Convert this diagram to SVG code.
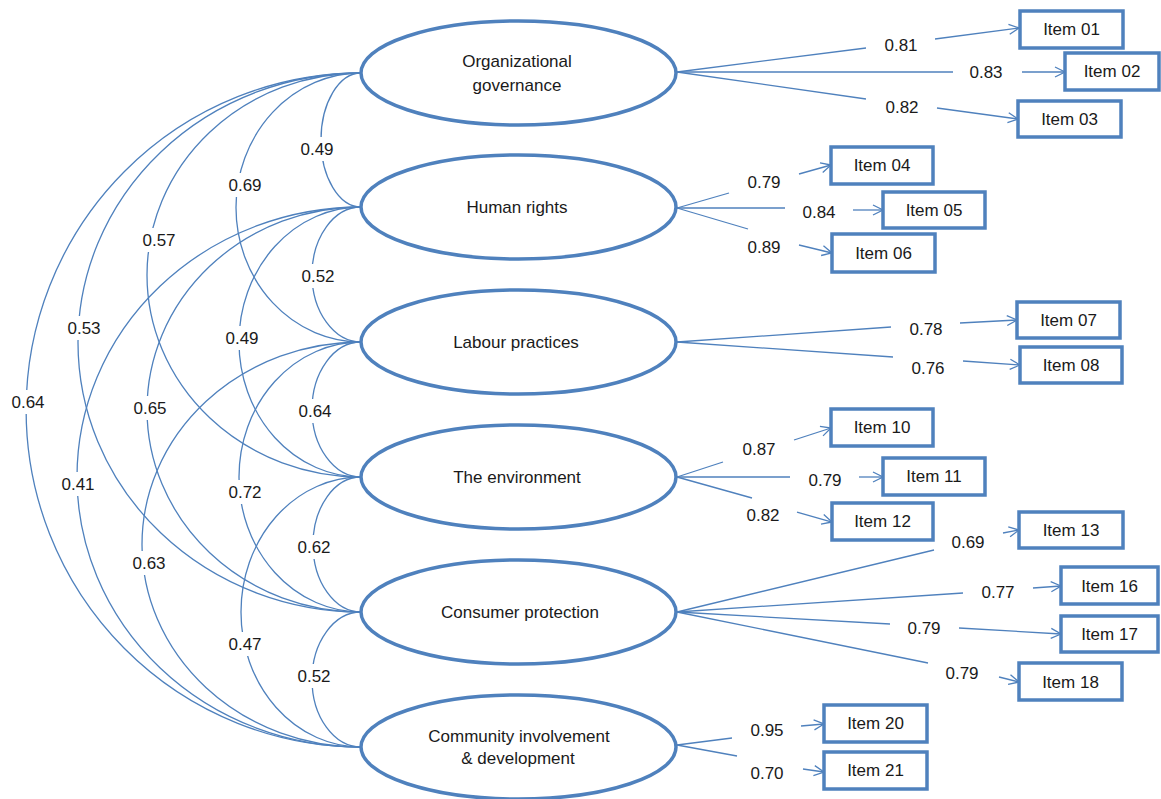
<svg xmlns="http://www.w3.org/2000/svg" width="1161" height="799" viewBox="0 0 1161 799">
<style>
.fac{fill:#fff;stroke:#4F81BD;stroke-width:3.5}
.box{fill:#fff;stroke:#4F81BD;stroke-width:3.5}
.ln{fill:none;stroke:#4F81BD;stroke-width:1.3}
.t{font-family:"Liberation Sans",Arial,sans-serif;font-size:17px;fill:#1a1a1a;text-anchor:middle}
.bg{fill:#fff}
</style>
<defs>
<marker id="arr" markerUnits="userSpaceOnUse" markerWidth="14" markerHeight="14" refX="11" refY="6" orient="auto">
<path d="M1,1 L11,6 L1,11" fill="none" stroke="#4F81BD" stroke-width="1.3"/>
</marker>
</defs>
<rect width="1161" height="799" fill="#fff"/>
<g id="connectors">
<g id="covariances">
<path class="ln" d="M361,73 A40,67 0 0 0 361,207"/>
<path class="ln" d="M361,207 A49,67.5 0 0 0 361,342"/>
<path class="ln" d="M361,342 A49,67.5 0 0 0 361,477"/>
<path class="ln" d="M361,477 A48,67.5 0 0 0 361,612"/>
<path class="ln" d="M361,612 A49,67.5 0 0 0 361,747"/>
<path class="ln" d="M361,73 A125,134.5 0 0 0 361,342"/>
<path class="ln" d="M361,207 A122,135 0 0 0 361,477"/>
<path class="ln" d="M361,342 A122,135 0 0 0 361,612"/>
<path class="ln" d="M361,477 A120,135 0 0 0 361,747"/>
<path class="ln" d="M361,73 A214,202 0 0 0 361,477"/>
<path class="ln" d="M361,207 A214,202.5 0 0 0 361,612"/>
<path class="ln" d="M361,342 A219,202.5 0 0 0 361,747"/>
<path class="ln" d="M361,73 A283,269.5 0 0 0 361,612"/>
<path class="ln" d="M361,207 A284,270 0 0 0 361,747"/>
<path class="ln" d="M361,73 A335,337 0 0 0 361,747"/>
</g>
<g id="cov-labels">
<rect class="bg" x="299" y="137" width="36" height="24"/><text class="t" x="317" y="155">0.49</text>
<rect class="bg" x="300" y="264" width="36" height="24"/><text class="t" x="318" y="282">0.52</text>
<rect class="bg" x="297" y="399" width="36" height="24"/><text class="t" x="315" y="417">0.64</text>
<rect class="bg" x="296" y="535" width="36" height="24"/><text class="t" x="314" y="553">0.62</text>
<rect class="bg" x="296" y="664" width="36" height="24"/><text class="t" x="314" y="682">0.52</text>
<rect class="bg" x="227" y="173" width="36" height="24"/><text class="t" x="245" y="191">0.69</text>
<rect class="bg" x="224" y="326" width="36" height="24"/><text class="t" x="242" y="344">0.49</text>
<rect class="bg" x="227" y="480" width="36" height="24"/><text class="t" x="245" y="498">0.72</text>
<rect class="bg" x="227" y="632" width="36" height="24"/><text class="t" x="245" y="650">0.47</text>
<rect class="bg" x="141" y="228" width="36" height="24"/><text class="t" x="159" y="246">0.57</text>
<rect class="bg" x="132" y="396" width="36" height="24"/><text class="t" x="150" y="414">0.65</text>
<rect class="bg" x="131" y="551" width="36" height="24"/><text class="t" x="149" y="569">0.63</text>
<rect class="bg" x="66" y="316" width="36" height="24"/><text class="t" x="84" y="334">0.53</text>
<rect class="bg" x="60" y="472" width="36" height="24"/><text class="t" x="78" y="490">0.41</text>
<rect class="bg" x="10" y="390" width="36" height="24"/><text class="t" x="28" y="408">0.64</text>
</g>
<g id="loadings">
<path class="ln" d="M677,72 L866,48"/><path class="ln" d="M935,39 L1019,28" marker-end="url(#arr)"/><text class="t" x="901" y="51">0.81</text>
<path class="ln" d="M677,72 L953,72"/><path class="ln" d="M1022,72 L1065,72" marker-end="url(#arr)"/><text class="t" x="986" y="78">0.83</text>
<path class="ln" d="M677,72 L866,99"/><path class="ln" d="M937,108 L1018,119" marker-end="url(#arr)"/><text class="t" x="902" y="113">0.82</text>

<path class="ln" d="M677,208 L729,193"/><path class="ln" d="M799,174 L831,165" marker-end="url(#arr)"/><text class="t" x="764" y="188">0.79</text>
<path class="ln" d="M677,208 L785,208"/><path class="ln" d="M853,210 L883,210" marker-end="url(#arr)"/><text class="t" x="819" y="218">0.84</text>
<path class="ln" d="M677,208 L748,229"/><path class="ln" d="M799,245 L832,253" marker-end="url(#arr)"/><text class="t" x="764" y="253">0.89</text>

<path class="ln" d="M677,342 L891,327"/><path class="ln" d="M960,323 L1017,320" marker-end="url(#arr)"/><text class="t" x="926" y="335">0.78</text>
<path class="ln" d="M677,342 L893,357"/><path class="ln" d="M963,361 L1020,365" marker-end="url(#arr)"/><text class="t" x="928" y="374">0.76</text>

<path class="ln" d="M677,477 L723,462"/><path class="ln" d="M794,440 L831,428" marker-end="url(#arr)"/><text class="t" x="759" y="455">0.87</text>
<path class="ln" d="M677,477 L790,477"/><path class="ln" d="M859,477 L883,477" marker-end="url(#arr)"/><text class="t" x="825" y="486">0.79</text>
<path class="ln" d="M677,477 L752,498"/><path class="ln" d="M797,512 L832,522" marker-end="url(#arr)"/><text class="t" x="763" y="521">0.82</text>

<path class="ln" d="M677,612 L934,550"/><path class="ln" d="M1003,533 L1019,530" marker-end="url(#arr)"/><text class="t" x="968" y="548">0.69</text>
<path class="ln" d="M677,612 L963,593"/><path class="ln" d="M1033,588 L1061,586" marker-end="url(#arr)"/><text class="t" x="998" y="598">0.77</text>
<path class="ln" d="M677,612 L890,624"/><path class="ln" d="M959,628 L1061,634" marker-end="url(#arr)"/><text class="t" x="924" y="634">0.79</text>
<path class="ln" d="M677,612 L928,663"/><path class="ln" d="M999,677 L1019,682" marker-end="url(#arr)"/><text class="t" x="962" y="679">0.79</text>

<path class="ln" d="M677,745 L732,738"/><path class="ln" d="M801,726 L824,724" marker-end="url(#arr)"/><text class="t" x="767" y="736">0.95</text>
<path class="ln" d="M677,745 L737,756"/><path class="ln" d="M803,769 L824,772" marker-end="url(#arr)"/><text class="t" x="767" y="779">0.70</text>
</g>
</g>
<g id="f-org"><ellipse class="fac" cx="518.5" cy="73" rx="157.5" ry="52"/><text class="t" x="517" y="67">Organizational</text><text class="t" x="517" y="91">governance</text></g>
<g id="f-hr"><ellipse class="fac" cx="518.5" cy="207" rx="157.5" ry="52"/><text class="t" x="517" y="213">Human rights</text></g>
<g id="f-lab"><ellipse class="fac" cx="518.5" cy="342" rx="157.5" ry="52"/><text class="t" x="516" y="348">Labour practices</text></g>
<g id="f-env"><ellipse class="fac" cx="518.5" cy="477" rx="157.5" ry="52"/><text class="t" x="517" y="483">The environment</text></g>
<g id="f-con"><ellipse class="fac" cx="518.5" cy="612" rx="157.5" ry="52"/><text class="t" x="520" y="618">Consumer protection</text></g>
<g id="f-com"><ellipse class="fac" cx="518.5" cy="747" rx="157.5" ry="52"/><text class="t" x="519" y="742">Community involvement</text><text class="t" x="518" y="764">&amp; development</text></g>
<g id="i01"><rect class="box" x="1020" y="11" width="103" height="37"/><text class="t" x="1071.5" y="35">Item 01</text></g>
<g id="i02"><rect class="box" x="1065" y="53" width="94" height="37"/><text class="t" x="1112" y="77">Item 02</text></g>
<g id="i03"><rect class="box" x="1018" y="101" width="103" height="36"/><text class="t" x="1069.5" y="125">Item 03</text></g>
<g id="i04"><rect class="box" x="831" y="147" width="102" height="37"/><text class="t" x="882" y="171">Item 04</text></g>
<g id="i05"><rect class="box" x="883" y="192" width="102" height="36"/><text class="t" x="934" y="216">Item 05</text></g>
<g id="i06"><rect class="box" x="832" y="234" width="103" height="38"/><text class="t" x="883.5" y="259">Item 06</text></g>
<g id="i07"><rect class="box" x="1017" y="302" width="103" height="36"/><text class="t" x="1068.5" y="326">Item 07</text></g>
<g id="i08"><rect class="box" x="1020" y="347" width="102" height="36"/><text class="t" x="1071" y="371">Item 08</text></g>
<g id="i10"><rect class="box" x="831" y="409" width="102" height="37"/><text class="t" x="882" y="433">Item 10</text></g>
<g id="i11"><rect class="box" x="883" y="458" width="102" height="37"/><text class="t" x="934" y="482">Item 11</text></g>
<g id="i12"><rect class="box" x="832" y="503" width="101" height="37"/><text class="t" x="882.5" y="527">Item 12</text></g>
<g id="i13"><rect class="box" x="1019" y="512" width="104" height="36"/><text class="t" x="1071" y="536">Item 13</text></g>
<g id="i16"><rect class="box" x="1061" y="567" width="97" height="37"/><text class="t" x="1109.5" y="592">Item 16</text></g>
<g id="i17"><rect class="box" x="1061" y="616" width="97" height="36"/><text class="t" x="1109.5" y="640">Item 17</text></g>
<g id="i18"><rect class="box" x="1019" y="663" width="103" height="37"/><text class="t" x="1070.5" y="688">Item 18</text></g>
<g id="i20"><rect class="box" x="824" y="705" width="103" height="37"/><text class="t" x="875.5" y="729">Item 20</text></g>
<g id="i21"><rect class="box" x="824" y="752" width="103" height="37"/><text class="t" x="875.5" y="776">Item 21</text></g>
</svg>
